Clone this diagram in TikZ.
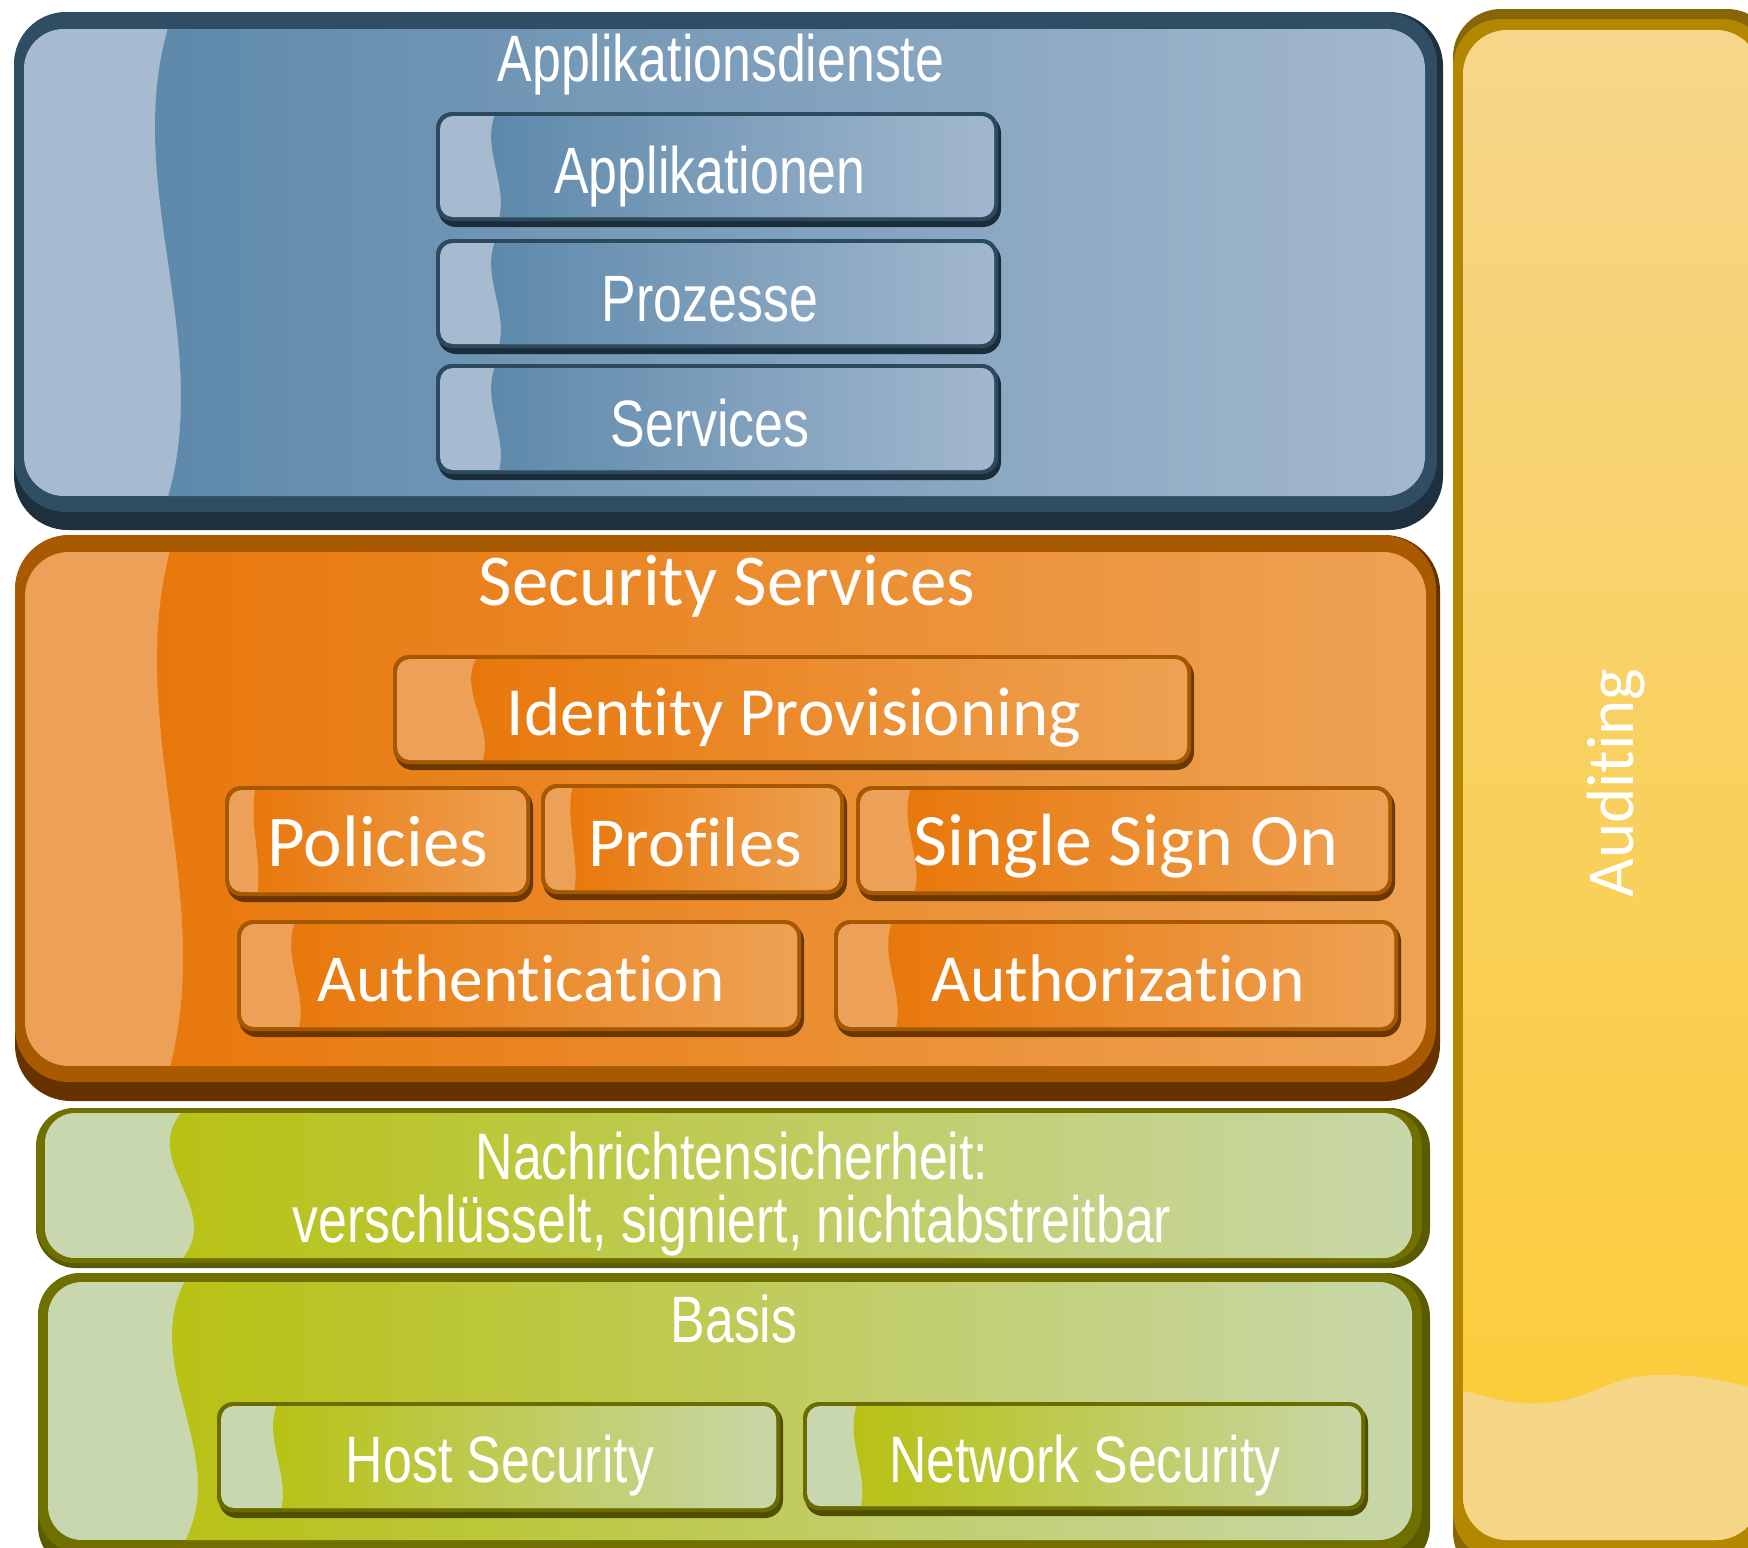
\documentclass[tikz,border=0pt]{standalone}
\usepackage{fontspec}
\newfontfamily\narrowfont[FakeStretch=0.79]{Liberation Sans}
\newfontfamily\uifont[RawFeature={-liga;-clig;-calt;-dlig}]{Carlito}
\newcommand\nolig{\kern0pt{}}

% blue palette
\definecolor{bluedark}{HTML}{1E2F3E}
\definecolor{blueborder}{HTML}{2F4E63}
\definecolor{bluelight}{HTML}{A6BBD0}
\definecolor{bluemain}{HTML}{5C88AA}
\definecolor{blueright}{HTML}{A3B8CE}
\definecolor{bluesdark}{HTML}{1B2D3B}
\definecolor{bluesborder}{HTML}{2C4A5E}
% orange palette
\definecolor{orangedark}{HTML}{663300}
\definecolor{orangeborder}{HTML}{A95A00}
\definecolor{orangelight}{HTML}{EDA058}
\definecolor{orangemain}{HTML}{E8770A}
\definecolor{orangeright}{HTML}{EEA254}
\definecolor{orangesdark}{HTML}{6B3700}
\definecolor{orangesborder}{HTML}{A65800}
% green palette
\definecolor{greendark}{HTML}{5A5A00}
\definecolor{greenborder}{HTML}{707000}
\definecolor{greenlight}{HTML}{C8D7AE}
\definecolor{greenmain}{HTML}{B7C110}
\definecolor{greenright}{HTML}{C8D7AA}
\definecolor{greensdark}{HTML}{4F4F00}
\definecolor{greensborder}{HTML}{6B6B00}
% yellow palette
\definecolor{yellowtop}{HTML}{876508}
\definecolor{yellowborder}{HTML}{B48700}
\definecolor{yellowlight}{HTML}{F6D68A}
\definecolor{yellowmain}{HTML}{FCCB33}
\definecolor{yellowwave}{HTML}{F5D586}

\tikzset{
  narrowtxt/.style={text=white, font=\narrowfont\fontsize{32.8}{36}\selectfont, inner sep=0pt, anchor=base},
  uitxt/.style={text=white, font=\uifont\fontsize{#1}{40}\selectfont, inner sep=0pt, anchor=base},
  uitxt/.default=34.5,
}

% small glossy box: #1 x1, #2 y1, #3 x2, #4 y2 (px, y down), #5 palette, #6 strip width
\newcommand\smallbox[6]{%
  \fill[#5sdark,rounded corners=9pt] ({#1+2},{#2+3}) rectangle (#3,#4);
  \fill[#5sborder,rounded corners=8pt] (#1,#2) rectangle ({#3-3},{#4-6});
  \begin{scope}
    \clip[rounded corners=6.5pt] ({#1+4},{#2+4}) rectangle ({#3-7},{#4-10});
    \fill[#5light] (#1,#2) rectangle (#3,#4);
    \pgfmathsetmacro\sbx{#1+#6}
    \pgfmathsetmacro\sba{0.28*#6}
    \pgfmathsetmacro\sbh{#4-#2}
    \shade[left color=#5main, right color=#5right]
      (\sbx,#2) .. controls ({\sbx-\sba},{#2+\sbh/3}) and ({\sbx+\sba},{#2+2*\sbh/3}) .. (\sbx,#4)
      -- (#3,#4) -- (#3,#2) -- cycle;
  \end{scope}}

\begin{document}
\begin{tikzpicture}[x=0.5pt,y=-0.5pt]
\useasboundingbox (0,0) rectangle (1748,1547);
\clip (0,0) rectangle (1748,1547);
\fill[white] (0,0) rectangle (1748,1547);

% ---------------- Blue layer ----------------
\fill[bluedark,rounded corners=27pt] (14,12) rectangle (1443,530);
\fill[blueborder,rounded corners=26pt] (14,12) rectangle (1437,512);
\begin{scope}
  \clip[rounded corners=20pt] (24,29) rectangle (1425,496);
  \fill[bluelight] (24,29) rectangle (1425,496);
  \shade[left color=bluemain,right color=blueright]
    (168,28) .. controls (123,184) and (213,340) .. (168,497) -- (1426,497) -- (1426,28) -- cycle;
\end{scope}
\smallbox{436}{112}{1001}{227}{blue}{60}
\smallbox{436}{239}{1001}{354}{blue}{60}
\smallbox{436}{364}{1001}{480}{blue}{60}
\node[narrowtxt] (appdienste) at (721,81) {Applikationsdienste};
\node[narrowtxt] (applikationen) at (710,193) {Applikationen};
\node[narrowtxt] (prozesse) at (710,321) {Prozesse};
\node[narrowtxt] (services) at (710,446) {Services};

% ---------------- Orange layer ----------------
\fill[orangedark,rounded corners=28pt] (15,535) rectangle (1440,1101);
\fill[orangeborder,rounded corners=27pt] (15,535) rectangle (1436,1082);
\begin{scope}
  \clip[rounded corners=22pt] (25,552) rectangle (1426,1066);
  \fill[orangelight] (25,552) rectangle (1426,1066);
  \shade[left color=orangemain,right color=orangeright]
    (170,551) .. controls (125,723) and (215,895) .. (170,1067) -- (1427,1067) -- (1427,551) -- cycle;
\end{scope}
\smallbox{393}{655}{1194}{770}{orange}{85}
\smallbox{225}{786}{533}{902}{orange}{31}
\smallbox{541}{784}{847}{900}{orange}{32}
\smallbox{856}{786}{1395}{901}{orange}{56}
\smallbox{237}{920}{804}{1037}{orange}{59}
\smallbox{834}{920}{1401}{1037}{orange}{59}
\node[uitxt=36.5] (secservices) at (727,605) {Security Services};
\node[uitxt=34.5] (identity) at (794,735) {Identit\nolig y Provisioning};
\node[uitxt=36.5] (policies) at (378,866) {Policies};
\node[uitxt=35.2] (profiles) at (695,866) {Prof\nolig iles};
\node[uitxt=37] (sso) at (1126,865) {Single Sign On};
\node[uitxt=33.6] (authn) at (521,1001) {Authentica\nolig t\nolig ion};
\node[uitxt=33.7] (authz) at (1118,1001) {Authoriza\nolig t\nolig ion};

% ---------------- Green: Nachrichtensicherheit ----------------
\fill[greendark,rounded corners=20pt] (36,1108) rectangle (1430,1268);
\fill[greenborder,rounded corners=19pt] (36,1108) rectangle (1422,1263);
\begin{scope}
  \clip[rounded corners=15pt] (45,1113) rectangle (1412,1258);
  \fill[greenlight] (45,1113) rectangle (1412,1258);
  \shade[left color=greenmain,right color=greenright]
    (182,1112) .. controls (140,1161) and (224,1210) .. (182,1259) -- (1413,1259) -- (1413,1112) -- cycle;
\end{scope}
\node[narrowtxt] (nachr1) at (732,1179) {Nachrichtensicherheit:};
\node[narrowtxt] (nachr2) at (732,1242) {verschlüsselt, signiert, nichtabstreitbar};

% ---------------- Green: Basis ----------------
\fill[greendark,rounded corners=22pt] (38,1273) rectangle (1430,1570);
\fill[greenborder,rounded corners=21pt] (38,1273) rectangle (1422,1553);
\begin{scope}
  \clip[rounded corners=17pt] (48,1282) rectangle (1412,1540);
  \fill[greenlight] (48,1282) rectangle (1412,1540);
  \shade[left color=greenmain,right color=greenright]
    (185,1281) .. controls (140,1367) and (230,1454) .. (185,1541) -- (1413,1541) -- (1413,1281) -- cycle;
\end{scope}
\smallbox{217}{1402}{783}{1518}{green}{61}
\smallbox{803}{1402}{1368}{1516}{green}{55}
\node[narrowtxt] (basis) at (734,1342) {Basis};
\node[narrowtxt] (hostsec) at (500,1482) {Host Security};
\node[narrowtxt] (netsec) at (1085,1482) {Network Security};

% ---------------- Yellow: Auditing ----------------
\fill[yellowtop,rounded corners=24pt] (1453,9) rectangle (1775,1580);
\fill[yellowborder,rounded corners=24pt] (1453,19) rectangle (1770,1560);
\begin{scope}
  \clip[rounded corners=22pt] (1463,30) rectangle (1760,1540);
  \shade[top color=yellowlight,bottom color=yellowmain] (1463,30) rectangle (1760,1540);
  \fill[yellowwave] (1460,1390) .. controls (1500,1400) and (1515,1405) .. (1545,1403)
    .. controls (1590,1400) and (1610,1376) .. (1655,1375)
    .. controls (1700,1374) and (1730,1382) .. (1770,1392) -- (1770,1545) -- (1460,1545) -- cycle;
\end{scope}
\node[uitxt=33.5, rotate=90] (auditing) at (1633,783) {Audit\nolig ing};

\end{tikzpicture}
\end{document}
